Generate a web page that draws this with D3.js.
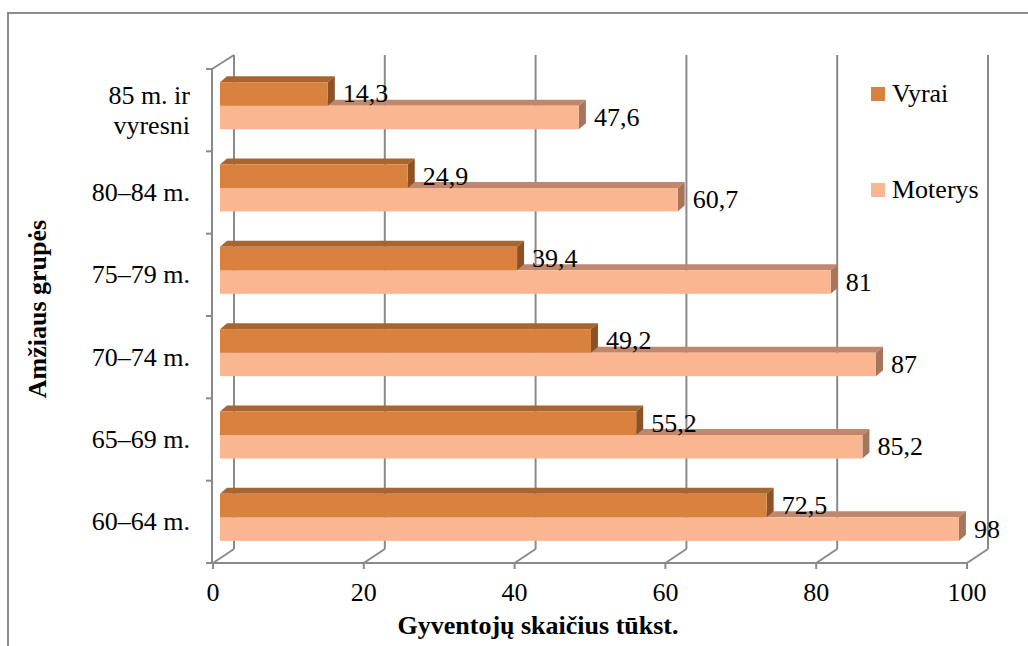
<!DOCTYPE html>
<html>
<head>
<meta charset="utf-8">
<script src="https://cdn.jsdelivr.net/npm/d3@7"></script>
<style>
  html, body { margin: 0; padding: 0; background: #fff; }
  svg { display: block; font-family: "Liberation Serif", "Times New Roman", Times, "DejaVu Serif", serif; }
</style>
</head>
<body>
<svg id="chart" width="1028" height="646"></svg>
<script>
// ---- data ----
const categories = ["60–64 m.", "65–69 m.", "70–74 m.", "75–79 m.", "80–84 m.", "85 m. ir\nvyresni"];
const vyrai = [72.5, 55.2, 49.2, 39.4, 24.9, 14.3];
const moterys = [98, 85.2, 87, 81, 60.7, 47.6];
const xTicks = [0, 20, 40, 60, 80, 100];
const seriesNames = ["Vyrai", "Moterys"];
const xTitle = "Gyventojų skaičius tūkst.";
const yTitle = "Amžiaus grupės";

// ---- layout ----
const FONT = "'Liberation Serif', 'Times New Roman', Times, 'DejaVu Serif', serif";
const svg = d3.select("#chart");
const W = 1028, H = 646;
const frontLeft = 213, frontRight = 967, frontTop = 69, frontBottom = 563;
const depth = { dx: 21, dy: -14 };       // front -> back wall offset
const barPlane = { dx: 7, dy: -4.5 };    // front -> bar front face offset
const barDepth = { dx: 7, dy: -6 };      // bar thickness
const barH = 23.5;
const grid = "#8a8a8a";

const colors = {
  Vyrai:   { front: "#D9823F", top: "#A9652F", side: "#8C5226" },
  Moterys: { front: "#FAB690", top: "#BF886D", side: "#A6765C" }
};

const x = d3.scaleLinear().domain([0, 100]).range([frontLeft, frontRight]);
const y = d3.scaleBand().domain(categories.slice().reverse()).range([frontTop, frontBottom]).padding(0);

function txt(sel) {
  return sel.attr("font-family", FONT).attr("fill", "#000").attr("font-size", 26);
}

// outer border
svg.append("rect").attr("x", 8).attr("y", 13).attr("width", W + 20).attr("height", H + 20)
  .attr("fill", "none").attr("stroke", "#8c8c8c").attr("stroke-width", 2);

const g = svg.append("g");

// back wall gridlines + floor diagonals
xTicks.forEach(v => {
  const xf = x(v), xb = x(v) + depth.dx;
  g.append("line").attr("x1", xb).attr("x2", xb)
    .attr("y1", frontBottom + depth.dy).attr("y2", frontTop + depth.dy)
    .attr("stroke", grid).attr("stroke-width", 2);
  g.append("line").attr("x1", xf).attr("y1", frontBottom)
    .attr("x2", xb).attr("y2", frontBottom + depth.dy)
    .attr("stroke", grid).attr("stroke-width", 2);
  g.append("line").attr("x1", xf).attr("x2", xf)
    .attr("y1", frontBottom).attr("y2", frontBottom + 6)
    .attr("stroke", grid).attr("stroke-width", 2);
});

// front floor line
g.append("line").attr("x1", x(0)).attr("x2", x(100))
  .attr("y1", frontBottom).attr("y2", frontBottom)
  .attr("stroke", grid).attr("stroke-width", 2);

// left wall: front vertical axis + top diagonal
g.append("line").attr("x1", x(0) - 1).attr("x2", x(0) - 1)
  .attr("y1", frontTop).attr("y2", frontBottom)
  .attr("stroke", grid).attr("stroke-width", 2);
g.append("line").attr("x1", x(0) - 1).attr("y1", frontTop)
  .attr("x2", x(0) + depth.dx).attr("y2", frontTop + depth.dy)
  .attr("stroke", grid).attr("stroke-width", 2);

// y ticks at band boundaries
const boundaries = y.domain().map(c => y(c)).concat([frontBottom]);
boundaries.forEach(b => {
  g.append("line").attr("x1", x(0) - 7).attr("x2", x(0) - 1)
    .attr("y1", b).attr("y2", b)
    .attr("stroke", grid).attr("stroke-width", 2);
});

// ---- bars ----
function drawBar(parent, v, yTop, c) {
  const x0 = x(0) + barPlane.dx;
  const x1 = x(v) + barPlane.dx;
  const y0 = yTop, y1 = yTop + barH;
  const dx = barDepth.dx, dy = barDepth.dy;
  parent.append("polygon")
    .attr("points", [[x0, y0], [x0 + dx, y0 + dy], [x1 + dx, y0 + dy], [x1, y0]].join(" "))
    .attr("fill", c.top);
  parent.append("polygon")
    .attr("points", [[x1, y0], [x1 + dx, y0 + dy], [x1 + dx, y1 + dy], [x1, y1]].join(" "))
    .attr("fill", c.side);
  parent.append("rect").attr("x", x0).attr("y", y0).attr("width", x1 - x0).attr("height", barH)
    .attr("fill", c.front);
}

const fmt = v => String(v).replace(".", ",");
const bars = svg.append("g");
const labels = svg.append("g");

categories.forEach((cat, i) => {
  const groupTop = y(cat) + (y.bandwidth() - 2 * barH) / 2 + barPlane.dy;
  const vyTop = groupTop, moTop = groupTop + barH;
  drawBar(bars, moterys[i], moTop, colors.Moterys);
  drawBar(bars, vyrai[i], vyTop, colors.Vyrai);

  txt(labels.append("text"))
    .attr("x", x(vyrai[i]) + barPlane.dx + 15)
    .attr("y", vyTop + barH / 2 + 8.5)
    .text(fmt(vyrai[i]));
  txt(labels.append("text"))
    .attr("x", x(moterys[i]) + barPlane.dx + 15)
    .attr("y", moTop + barH / 2 + 8.5)
    .text(fmt(moterys[i]));

  const lines = cat.split("\n");
  const cy = y(cat) + y.bandwidth() / 2;
  const lh = 30;
  lines.forEach((ln, k) => {
    txt(svg.append("text"))
      .attr("x", 190)
      .attr("y", cy + 8.5 + (k - (lines.length - 1) / 2) * lh)
      .attr("text-anchor", "end")
      .text(ln);
  });
});

// x tick labels
xTicks.forEach(v => {
  txt(svg.append("text")).attr("x", x(v)).attr("y", 601)
    .attr("text-anchor", "middle").text(v);
});

// axis titles
txt(svg.append("text")).attr("x", 538).attr("y", 634)
  .attr("text-anchor", "middle").attr("font-weight", "bold")
  .text(xTitle);
txt(svg.append("text"))
  .attr("transform", "translate(46,309) rotate(-90)")
  .attr("text-anchor", "middle").attr("font-weight", "bold")
  .text(yTitle);

// legend
const legendY = [94, 190];
seriesNames.forEach((s, i) => {
  svg.append("rect").attr("x", 871).attr("y", legendY[i] - 7).attr("width", 14).attr("height", 14)
    .attr("fill", colors[s].front);
  txt(svg.append("text")).attr("x", 892).attr("y", legendY[i] + 8).text(s);
});
</script>
</body>
</html>
